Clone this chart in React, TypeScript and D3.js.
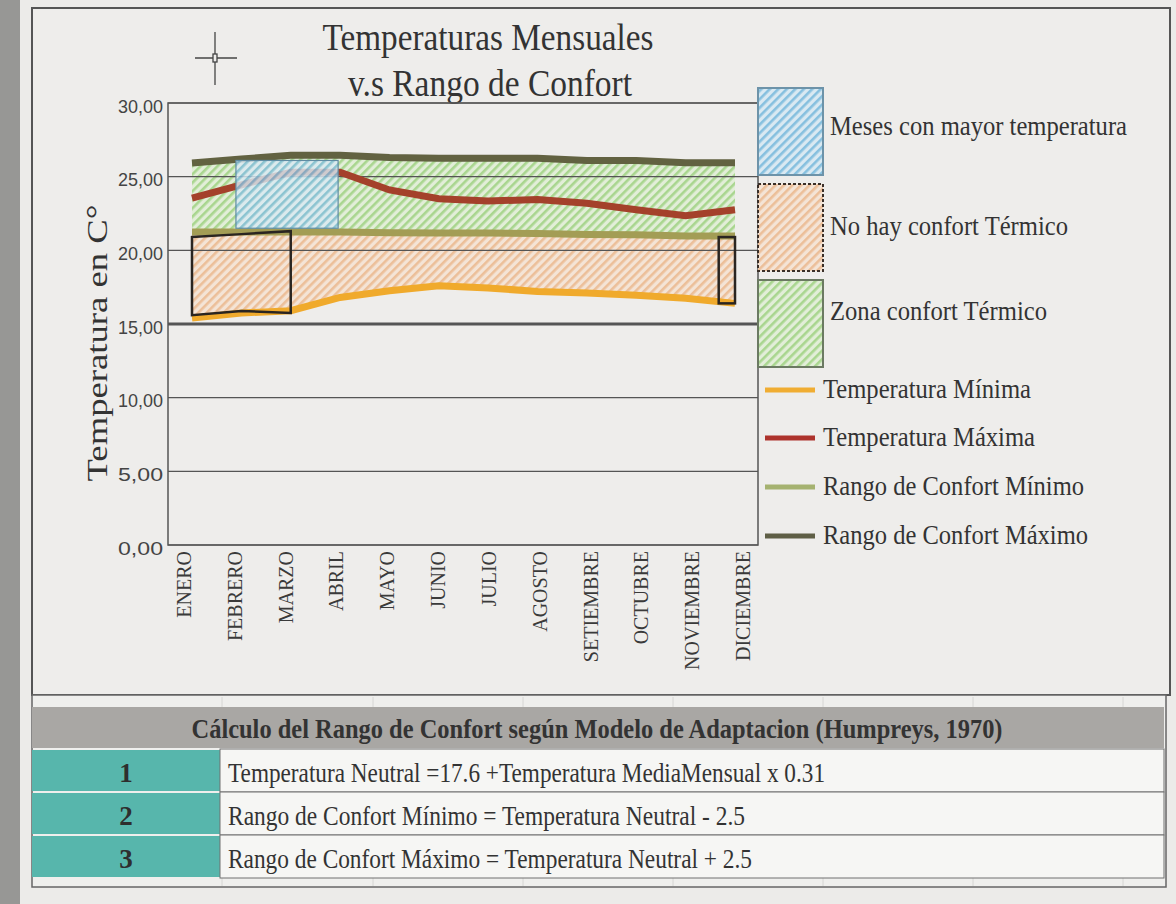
import React from "react";
import * as d3 from "d3";

const months = ["ENERO", "FEBRERO", "MARZO", "ABRIL", "MAYO", "JUNIO", "JULIO", "AGOSTO", "SETIEMBRE", "OCTUBRE", "NOVIEMBRE", "DICIEMBRE"];
const tempMin = [15.4, 15.75, 15.9, 16.8, 17.25, 17.6, 17.45, 17.2, 17.1, 16.95, 16.75, 16.4];
const tempMax = [23.55, 24.45, 25.3, 25.3, 24.1, 23.5, 23.35, 23.45, 23.2, 22.75, 22.35, 22.75];
const confMin = [21.25, 21.25, 21.25, 21.25, 21.2, 21.18, 21.18, 21.15, 21.07, 21.05, 20.97, 20.97];
const confMax = [25.93, 26.2, 26.45, 26.45, 26.3, 26.25, 26.25, 26.25, 26.1, 26.1, 25.95, 25.95];
const yTicks = [0, 5, 10, 15, 20, 25, 30];

// highlighted boxes (month index / temperature)
const hotMonthsX = [0.89, 2.96];
const hotMonthsY = [21.5, 26.1];
const noComfortBoxX = [0, 1, 2];
const noComfortTop = [20.9, 21.1, 21.3];
const noComfortBottom = [15.6, 15.88, 15.75];
const decBoxX = [10.67, 11];
const decBoxY = [16.4, 20.9];

const legendBoxes = [
  { label: "Meses con mayor temperatura", pat: "hBlue", stroke: "#6d93a9", dash: "", len: 297 },
  { label: "No hay confort Térmico", pat: "hOrange", stroke: "#3a2f28", dash: "3,2", len: 238 },
  { label: "Zona confort Térmico", pat: "hGreen", stroke: "#6b7a62", dash: "", len: 217 },
];
const legendLines = [
  { label: "Temperatura Mínima", color: "#f0ad32", len: 208 },
  { label: "Temperatura Máxima", color: "#ad332c", len: 212 },
  { label: "Rango de Confort Mínimo", color: "#a5b270", len: 261 },
  { label: "Rango de Confort Máximo", color: "#5f5f46", len: 265 },
];
const tableTitle = "Cálculo del Rango de Confort según Modelo de Adaptacion (Humpreys, 1970)";
const tableRows = [
  { n: "1", text: "Temperatura Neutral =17.6 +Temperatura MediaMensual x 0.31", len: 597 },
  { n: "2", text: "Rango de Confort Mínimo = Temperatura Neutral - 2.5", len: 517 },
  { n: "3", text: "Rango de Confort Máximo = Temperatura Neutral + 2.5", len: 524 },
];

const SERIF = "'Liberation Serif', 'Times New Roman', serif";
const SANS = "'Liberation Sans', Arial, sans-serif";

export default function App() {
  const PL = 168, PR = 758, PT = 103, PB = 545;
  const y = d3.scaleLinear().domain([0, 30]).range([PB, PT]);
  const x = d3.scaleLinear().domain([0, 11]).range([192, 735]);
  const xLab = d3.scalePoint<string>().domain(months).range([184, 743]);
  const fmt = (v: number) => d3.format(".2f")(v).replace(".", ",");

  const idx = months.map((_, i) => i);
  const areaBetween = (top: number[], bot: number[]) =>
    d3.area<number>().x((i) => x(i)).y0((i) => y(bot[i])).y1((i) => y(top[i]))(idx) || "";
  const linePath = (vals: number[]) => d3.line<number>().x((i) => x(i)).y((i) => y(vals[i]))(idx) || "";

  const boxPoly =
    noComfortBoxX.map((xi, k) => `${x(xi)},${y(noComfortTop[k])}`).join(" ") +
    " " +
    noComfortBoxX
      .map((xi, k) => `${x(xi)},${y(noComfortBottom[k])}`)
      .reverse()
      .join(" ");

  const pat = (id: string, bg: string, fg: string) => (
    <pattern id={id} width={6} height={6} patternUnits="userSpaceOnUse" patternTransform="rotate(45)">
      <rect width={6} height={6} fill={bg} />
      <rect x={0} y={0} width={2.6} height={6} fill={fg} />
    </pattern>
  );

  return (
    <svg width={1176} height={904} style={{ position: "absolute", left: 0, top: 0 }} fontFamily={SERIF}>
      <defs>
        {pat("hGreen", "#e2eed8", "#a9d68f")}
        {pat("hOrange", "#f4e4d6", "#ecbf99")}
        {pat("hBlue", "#d9e9f2", "#86c0df")}
      </defs>
      <rect width={1176} height={904} fill="#ecebe9" />
      <rect x={0} y={0} width={20} height={904} fill="#979795" />

      {/* outer frame */}
      <rect x={32} y={8} width={1138} height={687} fill="#eeedeb" stroke="#555" strokeWidth={2} />

      {/* title */}
      <text x={488} y={50} textAnchor="middle" fontSize={38} fill="#333" textLength={331} lengthAdjust="spacingAndGlyphs">
        Temperaturas Mensuales
      </text>
      <text x={490} y={96} textAnchor="middle" fontSize={37} fill="#333" textLength={284} lengthAdjust="spacingAndGlyphs">
        v.s Rango de Confort
      </text>

      {/* crosshair */}
      <g stroke="#444" strokeWidth={1.3} fill="none">
        <line x1={215} y1={32} x2={215} y2={85} />
        <line x1={195} y1={58} x2={237} y2={58} />
        <rect x={213} y={54} width={4} height={8} fill="#eeedeb" />
      </g>

      {/* y axis title */}
      <text transform="translate(107,343) rotate(-90)" textAnchor="middle" fontSize={30} fill="#333" textLength={277} lengthAdjust="spacingAndGlyphs">
        Temperatura en C°
      </text>

      {/* areas */}
      <path d={areaBetween(confMax, confMin)} fill="url(#hGreen)" />
      <path d={areaBetween(confMin, tempMin)} fill="url(#hOrange)" />

      {/* grid */}
      {yTicks.map((t) => (
        <g key={t}>
          <line x1={PL} x2={PR} y1={y(t)} y2={y(t)} stroke="#555" strokeWidth={t === 15 ? 3 : 1.1} />
          <text x={163} y={y(t) + 3} dy="0.35em" textAnchor="end" fontFamily={SANS} fontSize={19} fill="#444" textLength={45} lengthAdjust="spacingAndGlyphs">
            {fmt(t)}
          </text>
        </g>
      ))}
      <rect x={PL} y={PT} width={PR - PL} height={PB - PT} fill="none" stroke="#555" strokeWidth={1.5} />

      {/* series lines */}
      <path d={linePath(tempMin)} fill="none" stroke="#f0aa2c" strokeWidth={7} />
      <path d={linePath(confMin)} fill="none" stroke="#a39d55" strokeWidth={7} />
      <path d={linePath(confMax)} fill="none" stroke="#626241" strokeWidth={7} />
      <path d={linePath(tempMax)} fill="none" stroke="#a4412b" strokeWidth={7} />

      {/* hot months box */}
      <rect
        x={x(hotMonthsX[0])}
        y={y(hotMonthsY[1])}
        width={x(hotMonthsX[1]) - x(hotMonthsX[0])}
        height={y(hotMonthsY[0]) - y(hotMonthsY[1])}
        fill="url(#hBlue)"
        fillOpacity={0.82}
        stroke="#5f8ca3"
        strokeWidth={1.2}
      />

      {/* no comfort boxes */}
      <polygon points={boxPoly} fill="none" stroke="#2a2521" strokeWidth={2.5} />
      <rect
        x={x(decBoxX[0])}
        y={y(decBoxY[1])}
        width={x(decBoxX[1]) - x(decBoxX[0])}
        height={y(decBoxY[0]) - y(decBoxY[1])}
        fill="none"
        stroke="#2a2521"
        strokeWidth={2.5}
      />

      {/* x labels */}
      {months.map((m) => (
        <text key={m} transform={`translate(${xLab(m)},551) rotate(-90)`} dy="0.35em" textAnchor="end" fontSize={20} fill="#3a3a3a">
          {m}
        </text>
      ))}

      {/* legend boxes */}
      {legendBoxes.map((b, i) => {
        const ys = [88, 184, 280][i];
        const tb = [135, 235, 320][i];
        return (
          <g key={b.label}>
            <rect x={758} y={ys} width={65} height={87} fill={`url(#${b.pat})`} stroke={b.stroke} strokeWidth={2} strokeDasharray={b.dash || undefined} />
            <text x={830} y={tb} fontSize={27} fill="#333" textLength={b.len} lengthAdjust="spacingAndGlyphs">
              {b.label}
            </text>
          </g>
        );
      })}
      {legendLines.map((l, i) => {
        const ly = [390, 438, 487, 536][i];
        return (
          <g key={l.label}>
            <line x1={765} x2={815} y1={ly} y2={ly} stroke={l.color} strokeWidth={5} />
            <text x={823} y={ly + 8} fontSize={27} fill="#333" textLength={l.len} lengthAdjust="spacingAndGlyphs">
              {l.label}
            </text>
          </g>
        );
      })}

      {/* table */}
      <rect x={32} y={695} width={1134} height={192} fill="#efefed" stroke="#666" strokeWidth={1.5} />
      {[222, 373, 523, 673, 823, 973, 1123].map((gx) => (
        <g key={gx} stroke="#d6d6d4" strokeWidth={1}>
          <line x1={gx} x2={gx} y1={697} y2={707} />
          <line x1={gx} x2={gx} y1={877} y2={886} />
        </g>
      ))}
      <rect x={32} y={707} width={1132} height={41} fill="#a9a7a4" />
      <text x={597} y={738} textAnchor="middle" fontSize={28} fontWeight="bold" fill="#333" textLength={811} lengthAdjust="spacingAndGlyphs">
        {tableTitle}
      </text>
      {tableRows.map((r, i) => {
        const top = [750, 793, 836][i];
        return (
          <g key={r.n}>
            <rect x={32} y={top} width={188} height={41} fill="#57b6ac" />
            <rect x={220} y={top - 1} width={944} height={43} fill="#f6f6f4" stroke="#707070" strokeWidth={1} />
            <text x={126} y={top + 32} textAnchor="middle" fontSize={27} fontWeight="bold" fill="#2e2e2e">
              {r.n}
            </text>
            <text x={228} y={top + 32} fontSize={28} fill="#333" textLength={r.len} lengthAdjust="spacingAndGlyphs">
              {r.text}
            </text>
          </g>
        );
      })}
    </svg>
  );
}
